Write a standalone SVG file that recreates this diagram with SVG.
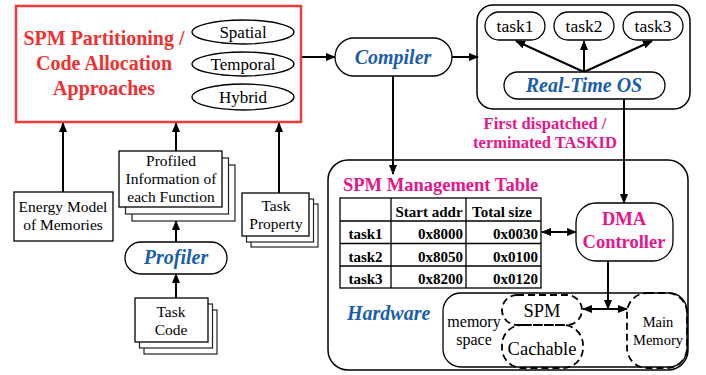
<svg xmlns="http://www.w3.org/2000/svg" width="706" height="375" viewBox="0 0 706 375" font-family="'Liberation Serif', 'Times New Roman', serif">
  <style>
    text { font-family: "Liberation Serif", "Times New Roman", serif; fill: #000; }
    .box { fill: #fff; stroke: #000; stroke-width: 1.3; }
    .stack { fill: #fff; stroke: #222; stroke-width: 1.2; }
    .dash { fill: none; stroke: #000; stroke-width: 1.8; stroke-dasharray: 7 4; }
    .wire { fill: none; stroke: #000; stroke-width: 2; }
    .red { fill: #ef3030; font-weight: bold; font-size: 20px; }
    .blue { fill: #1b5eab; font-weight: bold; font-style: italic; font-size: 20px; }
    .pink { fill: #e5168a; font-weight: bold; }
    .reg { font-size: 15.5px; }
    .tb { font-weight: bold; font-size: 15px; }
    .mid { text-anchor: middle; }
    .end { text-anchor: end; }
  </style>
  <defs>
    <marker id="arrow" viewBox="0 0 10 8" refX="9" refY="4" markerWidth="10" markerHeight="8" markerUnits="userSpaceOnUse" orient="auto-start-reverse">
      <path d="M0,0 L10,4 L0,8 z" fill="#000"/>
    </marker>
  </defs>

  <!-- connectors -->
  <g id="connectors">
    <line class="wire" x1="63" y1="192" x2="63" y2="123" marker-end="url(#arrow)"/>
    <line class="wire" x1="176" y1="151" x2="176" y2="123" marker-end="url(#arrow)"/>
    <line class="wire" x1="279" y1="193" x2="279" y2="123" marker-end="url(#arrow)"/>
    <line class="wire" x1="176" y1="242" x2="176" y2="221" marker-end="url(#arrow)"/>
    <line class="wire" x1="176" y1="298" x2="176" y2="274" marker-end="url(#arrow)"/>
    <line class="wire" x1="302" y1="57" x2="335" y2="57" marker-end="url(#arrow)"/>
    <line class="wire" x1="452" y1="57" x2="478" y2="57" marker-end="url(#arrow)"/>
    <line class="wire" x1="393" y1="76" x2="393" y2="174" marker-end="url(#arrow)"/>
    <line class="wire" x1="584" y1="72" x2="516" y2="41" marker-end="url(#arrow)"/>
    <line class="wire" x1="584" y1="72" x2="584" y2="41" marker-end="url(#arrow)"/>
    <line class="wire" x1="584" y1="72" x2="652" y2="41" marker-end="url(#arrow)"/>
    <line class="wire" x1="624" y1="99" x2="624" y2="203" marker-end="url(#arrow)"/>
    <line class="wire" x1="542" y1="232" x2="576" y2="232" marker-start="url(#arrow)" marker-end="url(#arrow)"/>
    <line class="wire" x1="608" y1="261" x2="608" y2="309" marker-end="url(#arrow)"/>
    <line class="wire" x1="583" y1="309" x2="627" y2="309" marker-start="url(#arrow)" marker-end="url(#arrow)"/>
  </g>

  <!-- partitioning / allocation approaches -->
  <g id="approaches">
    <rect x="16" y="6" width="285" height="116" fill="#fff" stroke="#f03a3a" stroke-width="2.5"/>
    <text class="red mid" x="104" y="45">SPM Partitioning /</text>
    <text class="red mid" x="104" y="70">Code Allocation</text>
    <text class="red mid" x="104" y="95">Approaches</text>
  </g>
  <g id="spatial">
    <ellipse cx="243" cy="32" rx="51" ry="12" fill="#fff" stroke="#000" stroke-width="1.3"/>
    <text class="mid" x="243" y="38" font-size="17">Spatial</text>
  </g>
  <g id="temporal">
    <ellipse cx="243" cy="64" rx="51" ry="12" fill="#fff" stroke="#000" stroke-width="1.3"/>
    <text class="mid" x="243" y="70" font-size="17">Temporal</text>
  </g>
  <g id="hybrid">
    <ellipse cx="243" cy="97" rx="51" ry="13" fill="#fff" stroke="#000" stroke-width="1.3"/>
    <text class="mid" x="243" y="103" font-size="17">Hybrid</text>
  </g>

  <!-- inputs -->
  <g id="energy-model">
    <rect class="box" x="14" y="192" width="99" height="49"/>
    <text class="reg mid" x="63" y="212">Energy Model</text>
    <text class="reg mid" x="63" y="230">of Memories</text>
  </g>
  <g id="profiled-info">
    <rect class="stack" x="132" y="165" width="103" height="56"/>
    <rect class="stack" x="125.5" y="158" width="103" height="56"/>
    <rect class="box" x="119" y="151" width="103" height="56"/>
    <text class="reg mid" x="171" y="166">Profiled</text>
    <text class="reg mid" x="171" y="184">Information of</text>
    <text class="reg mid" x="171" y="202">each Function</text>
  </g>
  <g id="profiler">
    <rect class="box" x="125" y="242" width="102" height="32" rx="16"/>
    <text class="blue mid" x="176" y="264">Profiler</text>
  </g>
  <g id="task-code">
    <rect class="stack" x="144" y="310" width="73" height="44"/>
    <rect class="stack" x="139.5" y="304" width="73" height="44"/>
    <rect class="box" x="135" y="298" width="73" height="44"/>
    <text class="reg mid" x="171" y="317">Task</text>
    <text class="reg mid" x="171" y="335">Code</text>
  </g>
  <g id="task-property">
    <rect class="stack" x="251" y="204" width="67" height="43"/>
    <rect class="stack" x="246.5" y="199" width="67" height="43"/>
    <rect class="box" x="242" y="193" width="67" height="43"/>
    <text class="reg mid" x="276" y="211">Task</text>
    <text class="reg mid" x="276" y="229">Property</text>
  </g>

  <!-- compiler -->
  <g id="compiler">
    <rect class="box" x="335" y="38" width="117" height="38" rx="19"/>
    <text class="blue mid" x="393" y="64">Compiler</text>
  </g>

  <!-- real-time OS and tasks -->
  <g id="rtos-frame">
    <rect x="477" y="5" width="213" height="104" rx="16" fill="none" stroke="#000" stroke-width="1.5"/>
  </g>
  <g id="task1">
    <rect class="box" x="485" y="12" width="60" height="28" rx="14"/>
    <text class="mid" x="515" y="32" font-size="17.5">task1</text>
  </g>
  <g id="task2">
    <rect class="box" x="554" y="12" width="60" height="28" rx="14"/>
    <text class="mid" x="584" y="32" font-size="17.5">task2</text>
  </g>
  <g id="task3">
    <rect class="box" x="623" y="12" width="60" height="28" rx="14"/>
    <text class="mid" x="653" y="32" font-size="17.5">task3</text>
  </g>
  <g id="rtos">
    <rect class="box" x="504" y="72" width="161" height="27" rx="13.5"/>
    <text class="blue mid" x="584" y="92" font-size="20.5">Real-Time OS</text>
  </g>
  <g id="taskid-label">
    <text class="pink mid" x="545" y="129" font-size="16.5">First dispatched /</text>
    <text class="pink mid" x="545" y="148" font-size="16.5">terminated TASKID</text>
  </g>

  <!-- hardware -->
  <g id="hardware">
    <rect x="328" y="160" width="360" height="210" rx="20" fill="none" stroke="#000" stroke-width="1.5"/>
    <text class="blue" x="347" y="320">Hardware</text>
  </g>
  <g id="spm-table">
    <text class="pink" x="343" y="191" font-size="18.5">SPM Management Table</text>
    <g fill="none" stroke="#000" stroke-width="1.3">
      <rect x="340" y="198" width="201" height="90"/>
      <line x1="391" y1="198" x2="391" y2="288"/>
      <line x1="466" y1="198" x2="466" y2="288"/>
      <line x1="340" y1="221" x2="541" y2="221"/>
      <line x1="340" y1="243.5" x2="541" y2="243.5"/>
      <line x1="340" y1="266" x2="541" y2="266"/>
    </g>
    <text class="tb mid" x="429" y="217">Start addr</text>
    <text class="tb mid" x="502" y="217">Total size</text>
    <text class="tb mid" x="365.5" y="239">task1</text>
    <text class="tb mid" x="365.5" y="262">task2</text>
    <text class="tb mid" x="365.5" y="284">task3</text>
    <text class="tb end" x="463" y="239">0x8000</text>
    <text class="tb end" x="463" y="262">0x8050</text>
    <text class="tb end" x="463" y="284">0x8200</text>
    <text class="tb end" x="538" y="239">0x0030</text>
    <text class="tb end" x="538" y="262">0x0100</text>
    <text class="tb end" x="538" y="284">0x0120</text>
  </g>
  <g id="dma">
    <rect class="box" x="576" y="203" width="97" height="58" rx="20"/>
    <text class="pink mid" x="624" y="225" font-size="18.5">DMA</text>
    <text class="pink mid" x="624" y="248" font-size="18.5">Controller</text>
  </g>
  <g id="memory-space">
    <rect x="443" y="293" width="244" height="74" rx="18" fill="none" stroke="#000" stroke-width="1.3"/>
    <text class="mid" x="474" y="327" font-size="16">memory</text>
    <text class="mid" x="474" y="345" font-size="16">space</text>
  </g>
  <g id="spm">
    <rect class="dash" x="502" y="295" width="80" height="30" rx="15"/>
    <text class="mid" x="542" y="317" font-size="18.5">SPM</text>
  </g>
  <g id="cachable">
    <rect class="dash" x="502" y="325" width="81" height="43" rx="20"/>
    <text class="mid" x="542" y="355" font-size="18.5">Cachable</text>
  </g>
  <g id="main-memory">
    <rect class="dash" x="627" y="293" width="60" height="75" rx="20"/>
    <text class="mid" x="658" y="327" font-size="14.5">Main</text>
    <text class="mid" x="658" y="345" font-size="14.5">Memory</text>
  </g>
</svg>
